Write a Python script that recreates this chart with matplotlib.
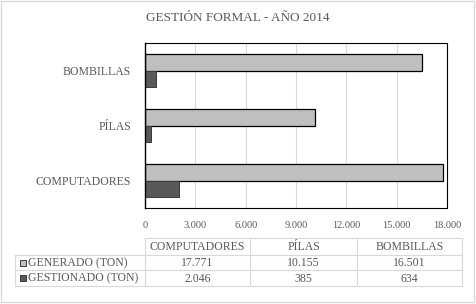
import matplotlib
matplotlib.use("Agg")
import matplotlib.pyplot as plt
import numpy as np

plt.rcParams['font.family'] = ['Liberation Serif', 'DejaVu Serif']

# data
categories = ["COMPUTADORES", "PÍLAS", "BOMBILLAS"]
generado = [17771, 10155, 16501]
gestionado = [2046, 385, 634]
series_names = ["GENERADO (TON)", "GESTIONADO (TON)"]
xticks = [0, 3000, 6000, 9000, 12000, 15000, 18000]
xtick_labels = ["0", "3.000", "6.000", "9.000", "12.000", "15.000", "18.000"]

TXT = "#595959"
C_GEN = "#BFBFBF"
C_GES = "#595959"
W, H = 476, 304

fig = plt.figure(figsize=(W / 100, H / 100), dpi=100)

# plot area in pixel coordinates
px0, px1, py0, py1 = 145, 447, 43, 208
ax = fig.add_axes([px0 / W, 1 - py1 / H, (px1 - px0) / W, (py1 - py0) / H])

y = np.arange(len(categories))
bh = 0.3
ax.barh(y + bh / 2, generado, height=bh, color=C_GEN, edgecolor="black", linewidth=0.9, zorder=3)
ax.barh(y - bh / 2, gestionado, height=bh, color=C_GES, edgecolor="#3a3a3a", linewidth=0.7, zorder=3)
ax.set_xlim(0, 18000)
ax.set_ylim(-0.5, len(categories) - 0.5)
ax.set_xticks(xticks)
ax.set_xticklabels(xtick_labels, color=TXT, fontsize=7.5)
ax.set_yticks(y)
ax.set_yticklabels(categories, color=TXT, fontsize=8.5)
ax.tick_params(length=0, axis="x", pad=9)
ax.tick_params(length=0, axis="y", pad=10)
ax.grid(axis="x", color="#D9D9D9", linewidth=0.8, zorder=0)
for s in ["top", "right", "bottom"]:
    ax.spines[s].set_linestyle((0, (1, 1)))
    ax.spines[s].set_linewidth(0.8)
    ax.spines[s].set_color("black")
ax.spines["left"].set_linewidth(1.0)
ax.spines["left"].set_zorder(4)

# overlay for title, table and border
ov = fig.add_axes([0, 0, 1, 1], facecolor="none")
ov.set_xlim(0, W)
ov.set_ylim(H, 0)
ov.axis("off")
ov.add_patch(plt.Rectangle((1, 1), W - 3, H - 3, fill=False, edgecolor="#D9D9D9", linewidth=1))
ov.text(238, 18, "GESTIÓN FORMAL - AÑO 2014", ha="center", va="center", color=TXT, fontsize=9.5)

# data table
cols = [145, 250, 357, 462]
rows = [238, 255, 270, 286]
lc = "#D9D9D9"
for xc in cols:
    ov.plot([xc, xc], [rows[0], rows[-1]], color=lc, linewidth=0.8)
ov.plot([15, 15], [rows[1], rows[-1]], color=lc, linewidth=0.8)
ov.plot([cols[0], cols[-1]], [rows[0], rows[0]], color=lc, linewidth=0.8)
for yr in rows[1:]:
    ov.plot([15, cols[-1]], [yr, yr], color=lc, linewidth=0.8)
for i, c in enumerate(categories):
    ov.text((cols[i] + cols[i + 1]) / 2, (rows[0] + rows[1]) / 2 + 0.5, c,
            ha="center", va="center", color=TXT, fontsize=8.5)
for r, (name, vals, col, ec) in enumerate(zip(series_names, [generado, gestionado],
                                               [C_GEN, C_GES], ["#3a3a3a", "#3a3a3a"])):
    yc = (rows[r + 1] + rows[r + 2]) / 2
    ov.add_patch(plt.Rectangle((20, yc - 3), 6, 6, facecolor=col, edgecolor=ec, linewidth=0.7))
    ov.text(28, yc + 0.5, name, ha="left", va="center", color=TXT, fontsize=8.5)
    for i, v in enumerate(vals):
        ov.text((cols[i] + cols[i + 1]) / 2, yc + 0.5, f"{v:,}".replace(",", "."),
                ha="center", va="center", color=TXT, fontsize=8.5)

fig.savefig("out.png", dpi=100)
